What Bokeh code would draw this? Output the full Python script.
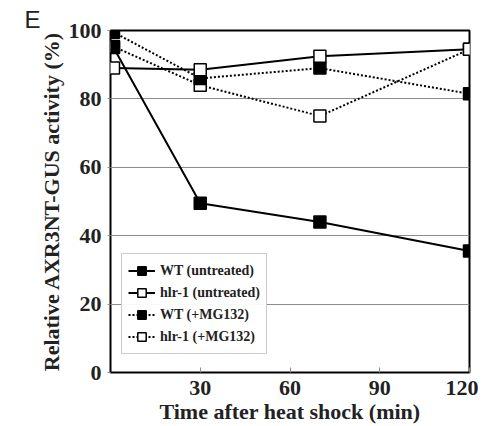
from bokeh.plotting import figure
from bokeh.models import Range1d, FixedTicker, Legend, LegendItem, Title
from bokeh.embed import file_html
from bokeh.resources import INLINE

time_min = [1, 30, 70, 120]
wt_untreated = [95.0, 49.5, 44.0, 35.5]
hlr1_untreated = [89.0, 88.5, 92.5, 94.5]
wt_mg132 = [99.5, 86.0, 89.0, 81.5]
hlr1_mg132 = [95.3, 84.0, 75.0, 94.5]

x_ticks = [30, 60, 90, 120]
y_ticks = [0, 20, 40, 60, 80, 100]

SERIF = "Liberation Serif"

p = figure(width=478, height=426, output_backend="svg", toolbar_location=None,
           x_range=Range1d(0, 120), y_range=Range1d(0, 100),
           min_border_left=110, min_border_right=9, min_border_top=30, min_border_bottom=53)
p.outline_line_color = "black"
p.outline_line_width = 2
p.background_fill_color = "white"
p.border_fill_color = "white"

p.xgrid.grid_line_color = None
p.ygrid.grid_line_color = "#8c8c8c"
p.ygrid.grid_line_width = 1.2

p.xaxis.ticker = FixedTicker(ticks=x_ticks)
p.yaxis.ticker = FixedTicker(ticks=y_ticks)
p.xaxis.minor_tick_line_color = None
p.yaxis.minor_tick_line_color = None
p.xaxis.axis_line_color = None
p.yaxis.axis_line_color = None
p.xaxis.major_tick_in = 5
p.xaxis.major_tick_out = 0
p.xaxis.major_tick_line_color = "#8c8c8c"
p.yaxis.major_tick_in = 0
p.yaxis.major_tick_out = 3
p.yaxis.major_tick_line_color = "#8c8c8c"

for ax in (p.xaxis, p.yaxis):
    ax.major_label_text_font = SERIF
    ax.major_label_text_font_style = "bold"
    ax.major_label_text_font_size = "22px"
    ax.major_label_text_color = "#222222"
    ax.axis_label_text_font = SERIF
    ax.axis_label_text_font_style = "bold"
    ax.axis_label_text_font_size = "22px"
    ax.axis_label_text_color = "#222222"

p.xaxis.axis_label = "Time after heat shock (min)"
p.yaxis.axis_label = "Relative AXR3NT-GUS activity (%)"
p.xaxis.major_label_standoff = 8
p.xaxis.axis_label_standoff = 1
p.yaxis.major_label_standoff = 6
p.yaxis.axis_label_standoff = 2

series = [
    ("WT (untreated)", wt_untreated, "solid", "black"),
    ("hlr-1 (untreated)", hlr1_untreated, "solid", "white"),
    ("WT (+MG132)", wt_mg132, "2 2", "black"),
    ("hlr-1 (+MG132)", hlr1_mg132, "2 2", "white"),
]

lines = {}
for label, ys, dash, fill in series:
    lines[label] = p.line(time_min, ys, line_color="black", line_width=2, line_dash=dash)
marks = {}
for label, ys, dash, fill in reversed(series):
    marks[label] = p.scatter(time_min, ys, marker="square", size=12, fill_color=fill,
                             line_color="black", line_width=1.5)

items = [LegendItem(label=label, renderers=[lines[label], marks[label]])
         for label, ys, dash, fill in series]

legend = Legend(items=items, location=(11, 18))
legend.label_text_font = SERIF
legend.label_text_font_style = "bold"
legend.label_text_font_size = "14px"
legend.label_text_color = "#222222"
legend.glyph_width = 27
legend.glyph_height = 21
legend.label_height = 21
legend.label_standoff = 5
legend.spacing = 1
legend.padding = 6
legend.margin = 0
legend.border_line_color = "#9a9a9a"
legend.border_line_width = 1
legend.background_fill_color = "white"
p.add_layout(legend, "center")

p.add_layout(Title(text="E", align="left", offset=-86, standoff=-4,
                   text_font="Liberation Sans", text_font_size="24px",
                   text_font_style="normal", text_color="#222222"), "above")

open("out.html", "w").write(file_html(p, INLINE))
